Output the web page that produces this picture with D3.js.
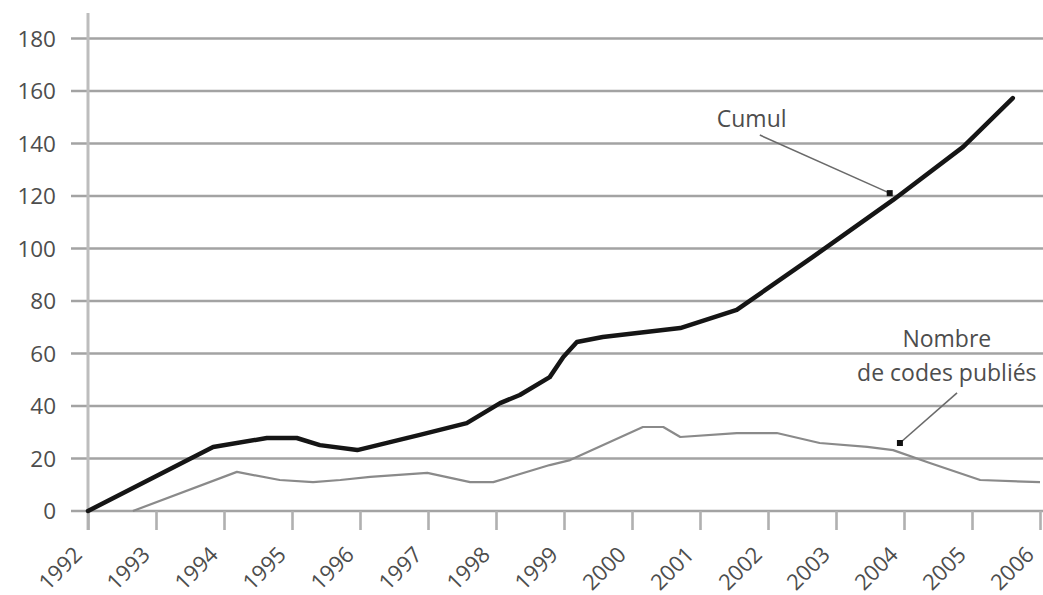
<!DOCTYPE html>
<html><head><meta charset="utf-8">
<script src="https://cdn.jsdelivr.net/npm/d3@7"></script>
<style>
html,body{margin:0;padding:0;background:#fff;}
svg{display:block;}
text{font-family:"Open Sans","Noto Sans",sans-serif;fill:#4d4d4d;}
</style></head>
<body>
<svg id="chart" width="1043" height="595"></svg>
<script>
// ---- data ----
const years = [1992,1993,1994,1995,1996,1997,1998,1999,2000,2001,2002,2003,2004,2005,2006];
const yTicks = [0,20,40,60,80,100,120,140,160,180];
const cumulYears  = [1992.00,1993.84,1994.63,1995.07,1995.41,1995.96,1996.88,1997.57,1998.06,1998.35,1998.79,1998.99,1999.19,1999.57,2000.71,2001.54,2002.66,2003.84,2004.87,2005.60];
const cumulValues = [0,24.4,27.8,27.8,25.1,23.2,29.0,33.5,41.1,44.2,51.0,58.7,64.4,66.3,69.7,76.6,96.8,118.5,138.7,157.3];
const codesYears  = [1992.66,1994.19,1994.82,1995.31,1995.71,1996.15,1996.99,1997.62,1997.96,1998.79,1999.09,2000.16,2000.46,2000.71,2001.54,2002.13,2002.76,2003.46,2003.84,2004.38,2005.12,2006.00];
const codesValues = [0,14.9,11.8,11.0,11.8,13.0,14.5,11.0,11.0,17.5,19.4,32.0,32.0,28.2,29.7,29.7,25.9,24.4,23.2,18.3,11.8,11.0];
const cumulLabel = ["Cumul"];
const codesLabel = ["Nombre","de codes publiés"];
// annotation anchors in data units
const cumulLabelPos = [2001.76, 146.2];
const cumulLeader = [[2001.88,143.2],[2003.79,121.1]];
const codesLabelPos = [2004.63, 62.4, 49.4];
const codesLeader = [[2004.78,45.0],[2003.94,25.9]];

// ---- layout ----
const svg = d3.select("#chart");
const W = 1043, H = 595;
const x = d3.scaleLinear().domain([1992,2006]).range([88,1040]);
const y = d3.scaleLinear().domain([0,180]).range([511,38.5]);

// grid lines
svg.append("g").selectAll("line").data(yTicks).join("line")
  .attr("x1", 71).attr("x2", W)
  .attr("y1", d=>y(d)).attr("y2", d=>y(d))
  .attr("stroke", "#a3a3a3").attr("stroke-width", 2.6);

// y labels
svg.append("g").selectAll("text").data(yTicks).join("text")
  .attr("x", 56).attr("y", d=>y(d)).attr("dy","0.36em")
  .attr("text-anchor","end").style("font-size","22.5px")
  .text(d=>d);

// y axis vertical line
svg.append("line").attr("x1", x(1992)).attr("x2", x(1992))
  .attr("y1", 13).attr("y2", 530)
  .attr("stroke","#bdbdbd").attr("stroke-width",3);

// x axis
const xAxis = d3.axisBottom(x).tickValues(years).tickFormat(d3.format("d")).tickSize(19).tickSizeOuter(0);
const gx = svg.append("g").attr("transform", `translate(0,${y(0)})`).call(xAxis);
gx.select(".domain").remove();
gx.selectAll(".tick line").attr("stroke","#b0b0b0").attr("stroke-width",2.6);
gx.selectAll(".tick text")
  .attr("x",0).attr("y",0).attr("dy",0)
  .attr("text-anchor","end")
  .attr("transform","translate(-5,45) rotate(-45)")
  .style("font-size","22px").style("font-family",'"Open Sans","Noto Sans",sans-serif')
  .attr("fill","#5e5e5e");

// lines
const line = d3.line().x(d=>x(d[0])).y(d=>y(d[1]));
const codes = codesYears.map((d,i)=>[d,codesValues[i]]);
const cumul = cumulYears.map((d,i)=>[d,cumulValues[i]]);
svg.append("path").datum(codes).attr("d", line)
  .attr("fill","none").attr("stroke","#8a8a8a").attr("stroke-width",2.2)
  .attr("stroke-linejoin","round");
svg.append("path").datum(cumul).attr("d", line)
  .attr("fill","none").attr("stroke","#151515").attr("stroke-width",4.5)
  .attr("stroke-linejoin","round").attr("stroke-linecap","round");

// annotations
function leader(pts){
  svg.append("line")
    .attr("x1", x(pts[0][0])).attr("y1", y(pts[0][1]))
    .attr("x2", x(pts[1][0])).attr("y2", y(pts[1][1]))
    .attr("stroke","#6a6a6a").attr("stroke-width",1.6);
  svg.append("rect")
    .attr("x", x(pts[1][0])-3).attr("y", y(pts[1][1])-3)
    .attr("width",6).attr("height",6).attr("fill","#111");
}
leader(cumulLeader);
leader(codesLeader);
svg.append("text").attr("x", x(cumulLabelPos[0])).attr("y", y(cumulLabelPos[1]))
  .attr("text-anchor","middle").style("font-size","23px").text(cumulLabel[0]);
svg.append("text").attr("x", x(codesLabelPos[0])).attr("y", y(codesLabelPos[1]))
  .attr("text-anchor","middle").style("font-size","23px").text(codesLabel[0]);
svg.append("text").attr("x", x(codesLabelPos[0])).attr("y", y(codesLabelPos[2]))
  .attr("text-anchor","middle").style("font-size","23px").text(codesLabel[1]);
</script>
</body></html>
